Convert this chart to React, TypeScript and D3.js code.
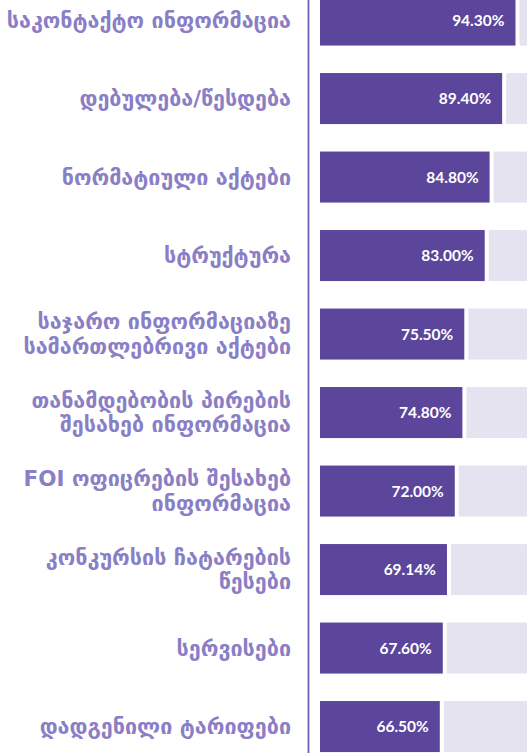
import React from "react";
import * as d3 from "d3";

const categories: string[][] = [
  ["საკონტაქტო ინფორმაცია"],
  ["დებულება/წესდება"],
  ["ნორმატიული აქტები"],
  ["სტრუქტურა"],
  ["საჯარო ინფორმაციაზე", "სამართლებრივი აქტები"],
  ["თანამდებობის პირების", "შესახებ ინფორმაცია"],
  ["FOI ოფიცრების შესახებ", "ინფორმაცია"],
  ["კონკურსის ჩატარების", "წესები"],
  ["სერვისები"],
  ["დადგენილი ტარიფები"],
];
const values: number[] = [94.3, 89.4, 84.8, 83.0, 75.5, 74.8, 72.0, 69.14, 67.6, 66.5];
const valueLabels: string[] = ["94.30%", "89.40%", "84.80%", "83.00%", "75.50%", "74.80%", "72.00%", "69.14%", "67.60%", "66.50%"];

const W = 527;
const H = 753;

export default function App() {
  const keys = categories.map((c) => c.join(" "));
  const y = d3
    .scaleBand<string>()
    .domain(keys)
    .range([-19.2, 765.8])
    .paddingInner(0.35)
    .paddingOuter(0.175);
  const x = d3.scaleLinear().domain([22.5, 100]).range([320, 531]);
  const axisX = 308.5;
  const purple = "#5b469b";
  const grey = "#e6e3f0";
  const labelColor = "#8a7fc6";

  return (
    <svg
      width={W}
      height={H}
      style={{ position: "absolute", left: 0, top: 0, display: "block", background: "#fff" }}
    >
      {keys.map((k, i) => {
        const by = y(k)!;
        const bh = y.bandwidth();
        const cy = by + bh / 2;
        const lines = categories[i];
        const lh = 24.5;
        return (
          <g key={k}>
            <rect x={x(values[i]) + 4} y={by} width={Math.max(0, x(100) - x(values[i]) - 4)} height={bh} fill={grey} />
            <rect x={x.range()[0]} y={by} width={x(values[i]) - x.range()[0]} height={bh} fill={purple} />
            <text
              x={x(values[i]) - 11}
              y={cy}
              dy="0.36em"
              textAnchor="end"
              fill="#fff"
              fontFamily="Lato, 'Open Sans', sans-serif"
              fontWeight={700}
              fontSize={15.5}
            >
              {valueLabels[i]}
            </text>
            <text
              textAnchor="end"
              fill={labelColor}
              fontFamily="'DejaVu Sans', sans-serif"
              fontWeight={700}
              fontSize={21.5}
            >
              {lines.map((ln, j) => (
                <tspan key={j} x={291} y={cy + (j - (lines.length - 1) / 2) * lh} dy="0.35em">
                  {ln}
                </tspan>
              ))}
            </text>
          </g>
        );
      })}
      <line x1={axisX} x2={axisX} y1={0} y2={H} stroke="#6f5fb5" strokeWidth={1.8} />
    </svg>
  );
}
